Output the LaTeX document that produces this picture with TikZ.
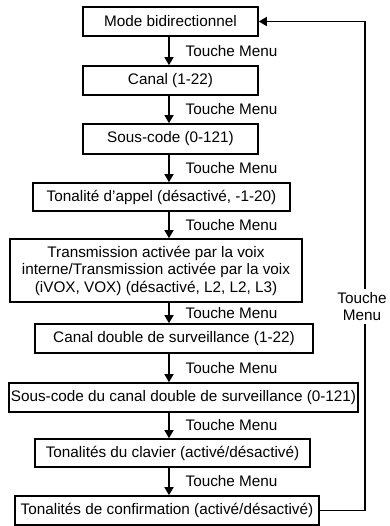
\documentclass[tikz,border=0pt]{standalone}
\usepackage{fontspec}
\setmainfont{Liberation Sans}
\usetikzlibrary{arrows.meta}

\begin{document}
\begin{tikzpicture}[x=1bp,y=-1bp, line cap=round,
    box/.style={draw, line width=1.6bp, inner sep=2bp, align=center, font=\fontsize{15.3bp}{17.5bp}\selectfont},
    menuarrow/.style={-{Triangle[length=8bp,width=9bp]}, line width=1.3bp},
    menulabel/.style={inner sep=1bp, font=\fontsize{15.3bp}{17.5bp}\selectfont}]
            \useasboundingbox (0,0) rectangle (389,526);
            \coordinate (col) at (169,0);   % arrow column
            \coordinate (back) at (365,0);  % return line
            \node[box, minimum width=175bp, minimum height=29bp] (mode) at (170.5,21.5) {Mode bidirectionnel};
            \node[box, minimum width=175bp, minimum height=29bp] (canal) at (170.5,80.5) {Canal (1-22)};
            \node[box, minimum width=175bp, minimum height=30bp] (souscode) at (170.5,139) {Sous-code (0-121)};
            \node[box, minimum width=257bp, minimum height=28bp] (appel) at (161.5,197) {Tonalité d’appel (désactivé, -1-20)};
            \node[box, minimum width=292bp, minimum height=63bp] (vox) at (156,270.5) {Transmission activée par la voix\\interne/Transmission activée par la voix\\(iVOX, VOX) (désactivé, L2, L2, L3)};
            \node[box, minimum width=278bp, minimum height=29bp] (double) at (174,338.5) {Canal double de surveillance (1-22)};
            \node[box, minimum width=349bp, minimum height=29bp] (dblcode) at (183.5,397.5) {Sous-code du canal double de surveillance (0-121)};
            \node[box, minimum width=275bp, minimum height=28bp] (clavier) at (172.5,453) {Tonalités du clavier (activé/désactivé)};
            \node[box, minimum width=304bp, minimum height=29bp] (confirm) at (167,510.5) {Tonalités de confirmation (activé/désactivé)};
            % Touche Menu steps
            \foreach \a/\b in {mode/canal, canal/souscode, souscode/appel, appel/vox, vox/double, double/dblcode, dblcode/clavier, clavier/confirm}
                \draw[menuarrow] (\a.south -| col) -- (\b.north -| col) node[midway, menulabel, anchor=west, xshift=15bp] {Touche Menu};
            \draw[menuarrow] (confirm.east) -- (confirm.east -| back) |- (mode.east);   % back to top
            \node[menulabel, fill=white, align=center, inner sep=3bp] (backlabel) at (362,306.5) {Touche\\Menu};
            \end{tikzpicture}
\end{document}
